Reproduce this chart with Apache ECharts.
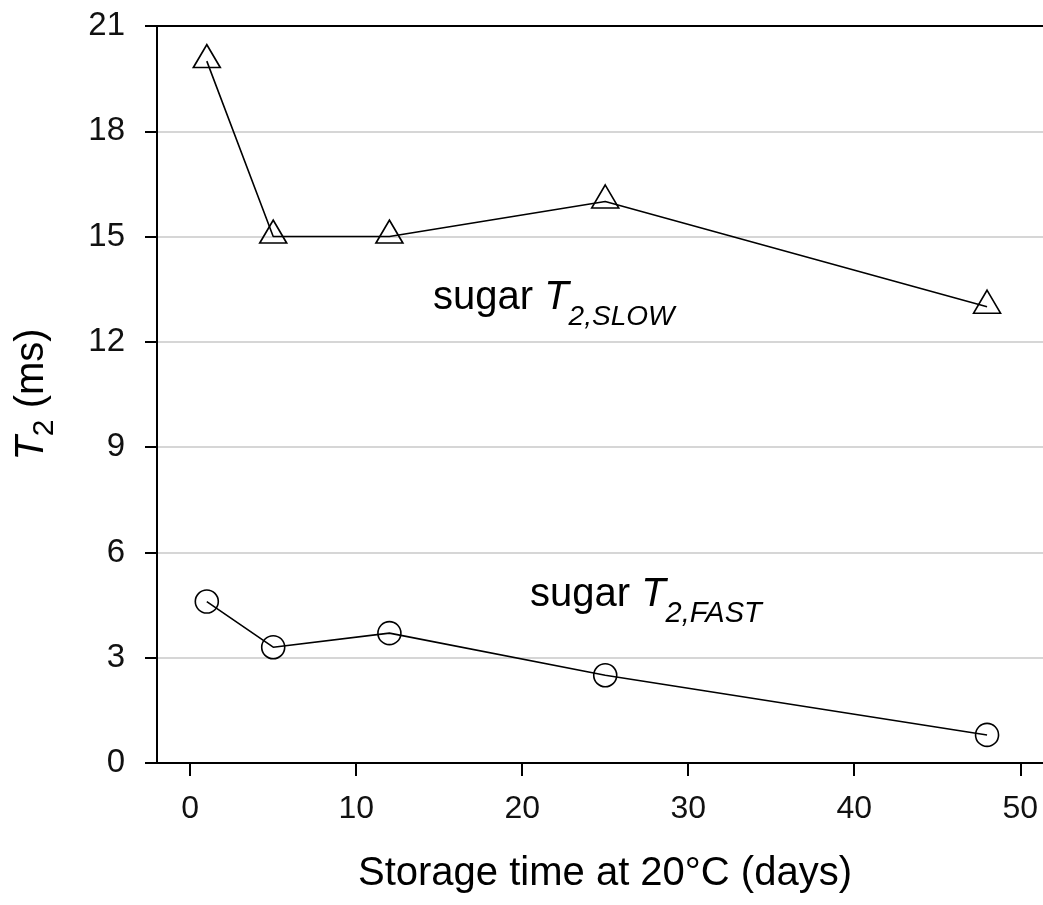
<!DOCTYPE html>
<html>
<head>
<meta charset="utf-8">
<script src="https://cdn.jsdelivr.net/npm/echarts@6/dist/echarts.min.js"></script>
<style>
  html, body { margin: 0; padding: 0; background: #fff; }
  #root { width: 1043px; height: 905px; }
</style>
</head>
<body>
<div id="root"></div>
<script>
// storage time (days)
const days = [1, 5, 12, 25, 48];
// sugar T2 slow component (ms)
const t2Slow = [20, 15, 15, 16, 13];
// sugar T2 fast component (ms)
const t2Fast = [4.6, 3.3, 3.7, 2.5, 0.8];
const xTicks = [0, 10, 20, 30, 40, 50];

const FONT = 'Liberation Sans';

let root = document.getElementById('root');
let myChart = echarts.init(root);

let option = {
  animation: false,
  grid: {
    left: 157, right: 0, top: 26, bottom: 142,
    outerBoundsMode: 'none'
  },
  xAxis: [
    {
      type: 'value',
      min: -2,
      max: 51.37,
      name: 'Storage time at 20°C (days)',
      nameLocation: 'middle',
      nameGap: 91,
      nameTextStyle: { fontFamily: FONT, fontSize: 40, color: '#000', padding: [0, 0, 0, 10] },
      axisLine: { onZero: false, lineStyle: { color: '#000', width: 2 } },
      axisTick: { customValues: xTicks, length: 13, lineStyle: { color: '#000', width: 2 } },
      axisLabel: { customValues: xTicks, margin: 30, fontFamily: FONT, fontSize: 32, color: '#111' },
      splitLine: { show: false }
    },
    {
      // top frame line
      type: 'value',
      position: 'top',
      min: -2,
      max: 51.37,
      axisLine: { show: true, onZero: false, lineStyle: { color: '#000', width: 2 } },
      axisTick: { show: false },
      axisLabel: { show: false },
      splitLine: { show: false }
    }
  ],
  yAxis: {
    type: 'value',
    min: 0,
    max: 21,
    interval: 3,
    name: '{t|T}{s|2}{n| (ms)}',
    nameLocation: 'middle',
    nameGap: 97,
    nameRotate: 90,
    nameTextStyle: {
      rich: {
        t: { fontFamily: FONT, fontSize: 40, fontStyle: 'italic', color: '#000', verticalAlign: 'bottom', padding: [0, 0, 8, 0] },
        s: { fontFamily: FONT, fontSize: 30, color: '#000', verticalAlign: 'bottom' },
        n: { fontFamily: FONT, fontSize: 40, color: '#000', verticalAlign: 'bottom', padding: [0, 0, 8, 0] }
      }
    },
    axisLine: { show: true, onZero: false, lineStyle: { color: '#000', width: 2 } },
    axisTick: { length: 12, lineStyle: { color: '#000', width: 2 } },
    axisLabel: { margin: 32, fontFamily: FONT, fontSize: 33, color: '#111' },
    splitLine: { lineStyle: { color: '#c8c8c8', width: 1.5 } }
  },
  series: [
    {
      name: 'sugar T2,SLOW',
      type: 'line',
      data: days.map((d, i) => [d, t2Slow[i]]),
      symbol: 'triangle',
      symbolSize: [27, 23],
      symbolOffset: [0, -5],
      itemStyle: { color: 'rgba(0,0,0,0)', borderColor: '#000', borderWidth: 1.6 },
      lineStyle: { color: '#000', width: 1.6 },
      emphasis: { disabled: true }
    },
    {
      name: 'sugar T2,FAST',
      type: 'line',
      data: days.map((d, i) => [d, t2Fast[i]]),
      symbol: 'circle',
      symbolSize: 23,
      itemStyle: { color: 'rgba(0,0,0,0)', borderColor: '#000', borderWidth: 1.6 },
      lineStyle: { color: '#000', width: 1.6 },
      emphasis: { disabled: true }
    }
  ],
  graphic: [
    {
      type: 'text',
      left: 433,
      top: 278,
      style: {
        text: '{a|sugar }{b|T}{c|2,SLOW}',
        rich: {
          a: { fontFamily: FONT, fontSize: 40, fill: '#000', verticalAlign: 'bottom', padding: [0, 0, 13, 0] },
          b: { fontFamily: FONT, fontSize: 40, fontStyle: 'italic', fill: '#000', verticalAlign: 'bottom', padding: [0, 0, 13, 0] },
          c: { fontFamily: FONT, fontSize: 28, fontStyle: 'italic', fill: '#000', verticalAlign: 'bottom' }
        }
      }
    },
    {
      type: 'text',
      left: 530,
      top: 575,
      style: {
        text: '{a|sugar }{b|T}{c|2,FAST}',
        rich: {
          a: { fontFamily: FONT, fontSize: 40, fill: '#000', verticalAlign: 'bottom', padding: [0, 0, 13, 0] },
          b: { fontFamily: FONT, fontSize: 40, fontStyle: 'italic', fill: '#000', verticalAlign: 'bottom', padding: [0, 0, 13, 0] },
          c: { fontFamily: FONT, fontSize: 29, fontStyle: 'italic', fill: '#000', verticalAlign: 'bottom' }
        }
      }
    }
  ]
};

myChart.setOption(option);
</script>
</body>
</html>
